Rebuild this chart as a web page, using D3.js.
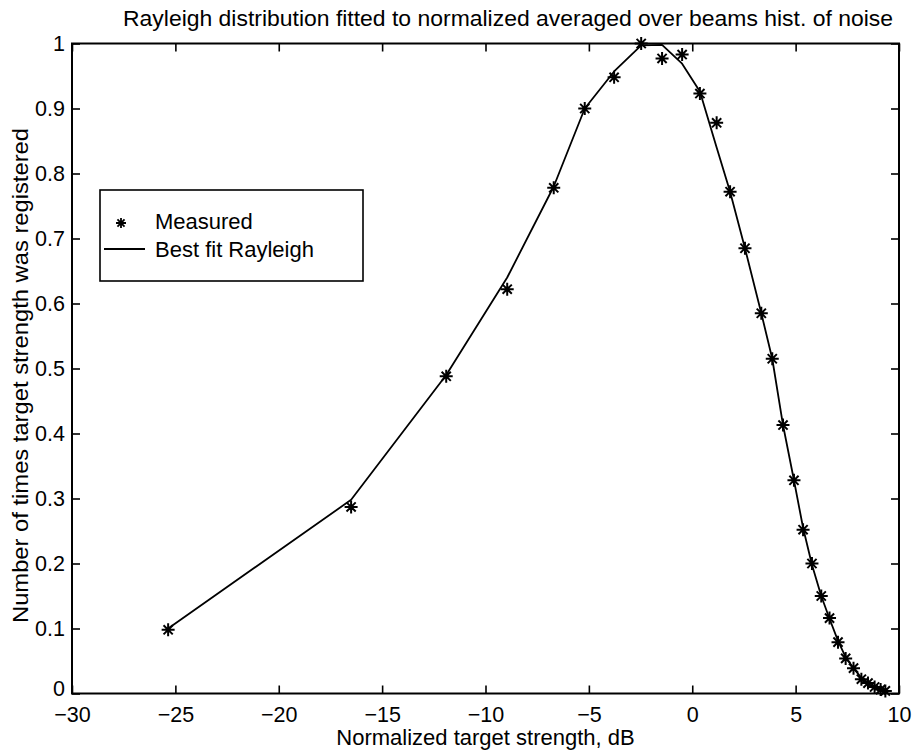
<!DOCTYPE html>
<html>
<head>
<meta charset="utf-8">
<script src="https://cdn.jsdelivr.net/npm/d3@7"></script>
<style>
  html, body { margin: 0; padding: 0; background: #fff; }
  svg { display: block; }
  text { font-family: "Liberation Sans", Arial, Helvetica, sans-serif; fill: #000; }
</style>
</head>
<body>
<svg id="chart" width="913" height="756"></svg>
<script>
// Measured histogram points (normalized target strength in dB, normalized count)
const measuredX = [-25.35, -16.5, -11.9, -8.95, -6.7, -5.2, -3.78, -2.47, -1.46, -0.49, 0.37, 1.18, 1.83, 2.55,
  3.34, 3.87, 4.39, 4.92, 5.36, 5.79, 6.24, 6.64, 7.05, 7.42, 7.8, 8.18, 8.5, 8.82, 9.11, 9.34];
const measuredY = [0.098, 0.287, 0.488, 0.622, 0.778, 0.900, 0.948, 1.000, 0.977, 0.983, 0.923, 0.878, 0.772, 0.685,
  0.585, 0.515, 0.413, 0.328, 0.252, 0.200, 0.150, 0.116, 0.079, 0.054, 0.039, 0.022, 0.016, 0.010, 0.006, 0.004];
// Best-fit Rayleigh curve evaluated at the same abscissae
const fitY = [0.100, 0.298, 0.490, 0.640, 0.780, 0.900, 0.957, 0.997, 0.998, 0.969, 0.926, 0.840, 0.772, 0.685,
  0.585, 0.515, 0.413, 0.328, 0.255, 0.198, 0.150, 0.115, 0.081, 0.056, 0.039, 0.024, 0.015, 0.009, 0.006, 0.004];

const xTicks = [-30, -25, -20, -15, -10, -5, 0, 5, 10];
const yTicks = [0, 0.1, 0.2, 0.3, 0.4, 0.5, 0.6, 0.7, 0.8, 0.9, 1];

const titleText = "Rayleigh distribution fitted to normalized averaged over beams hist. of noise";
const xLabelText = "Normalized target strength, dB";
const yLabelText = "Number of times target strength was registered";
const legendLabels = ["Measured", "Best fit Rayleigh"];

const svg = d3.select("#chart");
const plot = { left: 72, right: 899, top: 43.5, bottom: 693.5 };

const x = d3.scaleLinear().domain([-30, 10]).range([plot.left, plot.right]);
const y = d3.scaleLinear().domain([0, 1]).range([plot.bottom, plot.top]);

const fontSize = 21.5;
const tickLen = 8;

// Axes: ticks pointing inward on all four sides (boxed axes)
const fmtX = d3.format("");
const fmtY = v => (v === 0 || v === 1) ? String(v) : d3.format(".1f")(v);

const axisBottom = d3.axisBottom(x).tickValues(xTicks).tickSizeInner(-tickLen).tickSizeOuter(0)
  .tickPadding(13).tickFormat(d => fmtX(d));
const axisTop = d3.axisTop(x).tickValues(xTicks).tickSizeInner(-tickLen).tickSizeOuter(0).tickFormat("");
const axisLeft = d3.axisLeft(y).tickValues(yTicks).tickSizeInner(-tickLen).tickSizeOuter(0)
  .tickPadding(7).tickFormat(fmtY);
const axisRight = d3.axisRight(y).tickValues(yTicks).tickSizeInner(-tickLen).tickSizeOuter(0).tickFormat("");

function styleAxis(g) {
  g.select(".domain").remove();
  g.selectAll(".tick line").attr("stroke", "#000").attr("stroke-width", 1.6);
  g.selectAll(".tick text").attr("font-size", fontSize).attr("fill", "#000")
    .style("font-family", '"Liberation Sans", Arial, sans-serif');
}

svg.append("g").attr("transform", `translate(0,${plot.bottom})`).call(axisBottom).call(styleAxis);
svg.append("g").attr("transform", `translate(0,${plot.top})`).call(axisTop).call(styleAxis);
const gLeft = svg.append("g").attr("transform", `translate(${plot.left},0)`).call(axisLeft).call(styleAxis);
svg.append("g").attr("transform", `translate(${plot.right},0)`).call(axisRight).call(styleAxis);

// The "0" label sits just above the "-30" label in the corner; lift it slightly
gLeft.selectAll(".tick").filter(d => d === 0).select("text").attr("dy", "0.1em");

// Plot frame
svg.append("rect")
  .attr("x", plot.left).attr("y", plot.top)
  .attr("width", plot.right - plot.left).attr("height", plot.bottom - plot.top)
  .attr("fill", "none").attr("stroke", "#000").attr("stroke-width", 2);

// Fitted curve
const line = d3.line().x((d, i) => x(measuredX[i])).y(d => y(d));
svg.append("path")
  .datum(fitY)
  .attr("d", line)
  .attr("fill", "none")
  .attr("stroke", "#000")
  .attr("stroke-width", 1.8)
  .attr("stroke-linejoin", "round");

// Asterisk marker: a plus combined with a cross
function asterisk(r) {
  const d = r * Math.SQRT1_2;
  return `M${-r},0L${r},0M0,${-r}L0,${r}M${-d},${-d}L${d},${d}M${-d},${d}L${d},${-d}`;
}

svg.append("g").selectAll("path")
  .data(measuredY)
  .join("path")
  .attr("transform", (d, i) => `translate(${x(measuredX[i])},${y(d)})`)
  .attr("d", asterisk(6.5))
  .attr("fill", "none")
  .attr("stroke", "#000")
  .attr("stroke-width", 2);

// Title and axis labels
svg.append("text")
  .attr("x", 508).attr("y", 26)
  .attr("text-anchor", "middle").attr("font-size", 22)
  .attr("textLength", 770).attr("lengthAdjust", "spacingAndGlyphs")
  .text(titleText);

svg.append("text")
  .attr("x", (plot.left + plot.right) / 2).attr("y", 745)
  .attr("text-anchor", "middle").attr("font-size", 22)
  .text(xLabelText);

svg.append("text")
  .attr("transform", `translate(28,${(plot.top + plot.bottom) / 2 + 7}) rotate(-90)`)
  .attr("text-anchor", "middle").attr("font-size", 22.5)
  .attr("textLength", 495).attr("lengthAdjust", "spacingAndGlyphs")
  .text(yLabelText);

// Legend
const legend = svg.append("g").attr("transform", "translate(100,190)");
legend.append("rect")
  .attr("width", 263).attr("height", 91)
  .attr("fill", "#fff").attr("stroke", "#000").attr("stroke-width", 1.6);
legend.append("path")
  .attr("transform", "translate(21,33)")
  .attr("d", asterisk(5))
  .attr("fill", "none").attr("stroke", "#000").attr("stroke-width", 1.8);
legend.append("line")
  .attr("x1", 4).attr("x2", 45).attr("y1", 59).attr("y2", 59)
  .attr("stroke", "#000").attr("stroke-width", 1.8);
legend.selectAll("text.lg")
  .data(legendLabels)
  .join("text")
  .attr("class", "lg")
  .attr("x", 55)
  .attr("y", (d, i) => 39 + i * 28)
  .attr("font-size", 22)
  .text(d => d);
</script>
</body>
</html>
